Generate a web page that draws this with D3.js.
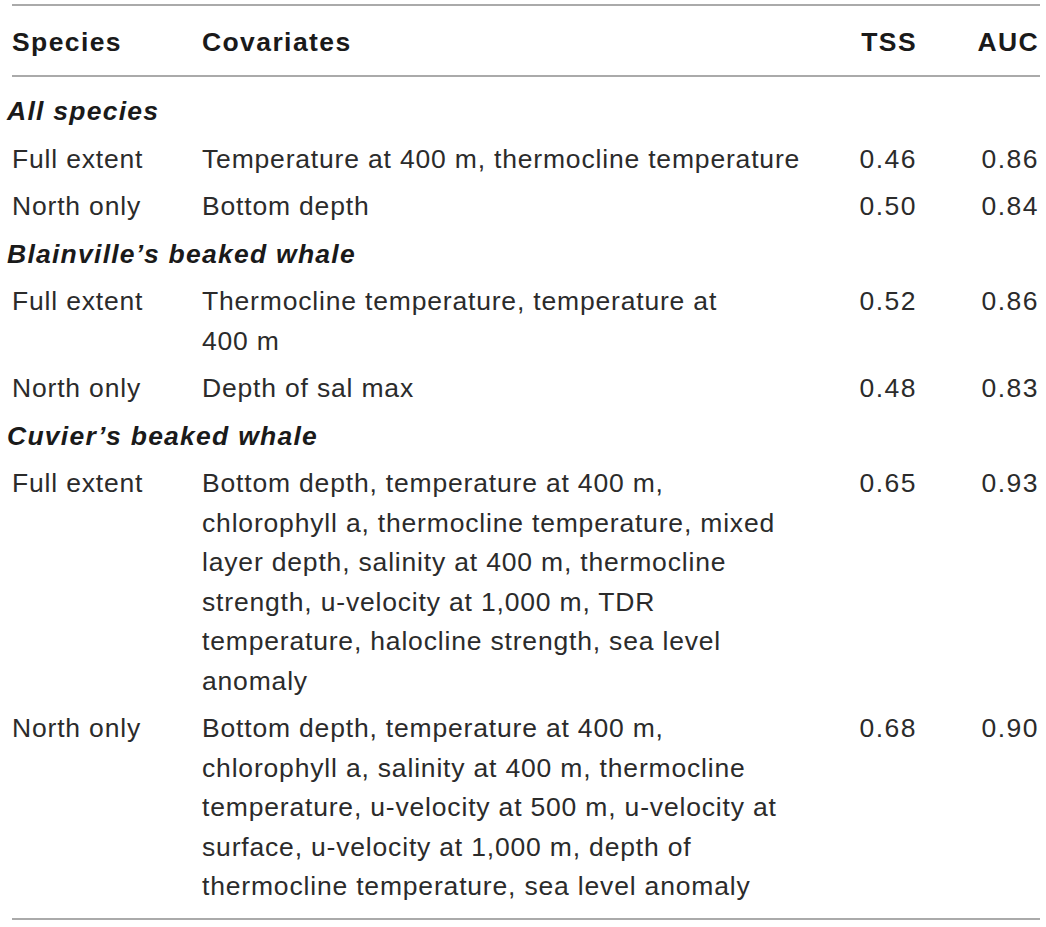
<!DOCTYPE html>
<html>
<head>
<meta charset="utf-8">
<script src="https://cdn.jsdelivr.net/npm/d3@7"></script>
<style>
  body { margin: 0; background: #fff; }
  text { font-family: "Liberation Sans", Arial, sans-serif; }
</style>
</head>
<body>
<div id="table"></div>
<script>
// Table content
const headers = ["Species", "Covariates", "TSS", "AUC"];
const groups = ["All species", "Blainville’s beaked whale", "Cuvier’s beaked whale"];
const extents = ["Full extent", "North only"];
const covariates = [
    ["Temperature at 400 m, thermocline temperature"],
    ["Bottom depth"],
    ["Thermocline temperature, temperature at", "400 m"],
    ["Depth of sal max"],
    ["Bottom depth, temperature at 400 m,", "chlorophyll a, thermocline temperature, mixed",
     "layer depth, salinity at 400 m, thermocline", "strength, u-velocity at 1,000 m, TDR",
     "temperature, halocline strength, sea level", "anomaly"],
    ["Bottom depth, temperature at 400 m,", "chlorophyll a, salinity at 400 m, thermocline",
     "temperature, u-velocity at 500 m, u-velocity at", "surface, u-velocity at 1,000 m, depth of",
     "thermocline temperature, sea level anomaly"]
];
const tss = ["0.46", "0.50", "0.52", "0.48", "0.65", "0.68"];
const auc = ["0.86", "0.84", "0.86", "0.83", "0.93", "0.90"];

document.addEventListener("DOMContentLoaded", function () {
    const width = 1046;
    const height = 927;
    const fontSize = 26.5;
    const lineH = 39.5;   // wrapped line spacing
    const rowGap = 47.5;  // spacing between rows

    const svg = d3.select("#table")
        .append("svg")
        .attr("width", width)
        .attr("height", height);

    // column anchors
    const colX = d3.scaleOrdinal().domain(headers).range([12, 202, 917, 1039]);
    const colAnchor = d3.scaleOrdinal().domain(headers).range(["start", "start", "end", "end"]);

    // Rules
    const rules = [5, 76, 919];
    svg.selectAll("line.rule")
        .data(rules)
        .enter()
        .append("line")
        .attr("class", "rule")
        .attr("x1", 12)
        .attr("x2", 1040)
        .attr("y1", d => d)
        .attr("y2", d => d)
        .attr("stroke", "#aaa")
        .attr("stroke-width", 2);

    // Header
    svg.selectAll("text.head")
        .data(headers)
        .enter()
        .append("text")
        .attr("class", "head")
        .attr("x", d => colX(d))
        .attr("y", 51)
        .attr("text-anchor", d => colAnchor(d))
        .attr("font-size", fontSize)
        .attr("font-weight", "bold")
        .attr("letter-spacing", 1.4)
        .attr("fill", "#1a1a1a")
        .text(d => d);

    // Build rows
    let y = 120;
    const body = svg.append("g");
    groups.forEach((g, gi) => {
        body.append("text")
            .attr("x", 7)
            .attr("y", y)
            .attr("font-size", fontSize)
            .attr("font-weight", "bold")
            .attr("font-style", "italic")
            .attr("letter-spacing", 1.25)
            .attr("fill", "#1a1a1a")
            .text(g);
        y += rowGap;
        extents.forEach((ext, ei) => {
            const i = gi * 2 + ei;
            const row = body.append("g").attr("transform", `translate(0, ${y})`);
            const cells = [ext, null, tss[i], auc[i]];
            cells.forEach((c, ci) => {
                if (c === null) return;
                row.append("text")
                    .attr("x", colX(headers[ci]))
                    .attr("text-anchor", colAnchor(headers[ci]))
                    .attr("font-size", fontSize)
                    .attr("letter-spacing", ci < 2 ? 0.82 : 1.5)
                    .attr("fill", "#2b2b2b")
                    .text(c);
            });
            row.selectAll("text.cov")
                .data(covariates[i])
                .enter()
                .append("text")
                .attr("class", "cov")
                .attr("x", colX("Covariates"))
                .attr("y", (d, k) => k * lineH)
                .attr("font-size", fontSize)
                .attr("letter-spacing", 0.82)
                .attr("fill", "#2b2b2b")
                .text(d => d);
            y += (covariates[i].length - 1) * lineH + rowGap;
        });
    });
});
</script>
</body>
</html>
